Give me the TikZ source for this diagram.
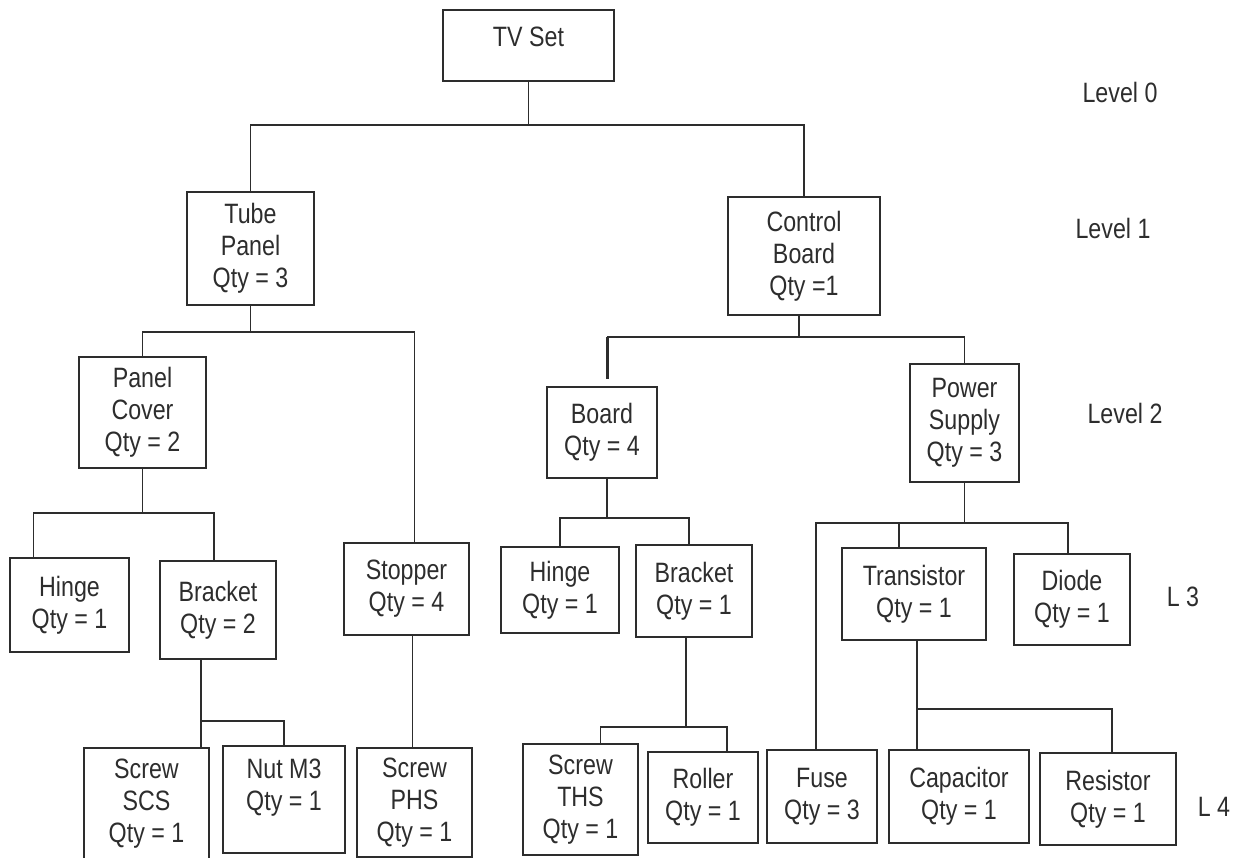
\documentclass[tikz,border=0pt]{standalone}
\usepackage{fontspec}
\setmainfont{Liberation Sans}[FakeStretch=0.83]
\usetikzlibrary{calc}
\definecolor{InkGray}{RGB}{45,45,45}
\tikzset{
  part/.style={draw=InkGray, line width=1.6pt, align=center, inner sep=2pt, text=InkGray},
  link/.style={draw=InkGray, line width=1.4pt},
  levellabel/.style={text=InkGray, inner sep=0pt}
}

\begin{document}
\begin{tikzpicture}[x=1pt, y=-1pt, font=\fontsize{28}{32}\selectfont]
  \useasboundingbox (0,0) rectangle (1240,858);

  % level 0 and 1
  \node[part, minimum width=171, minimum height=71, text depth=17pt] (tvset) at (528.5,45.5) {TV Set};
  \node[part, minimum width=127, minimum height=113] (tube) at (250.5,248.5) {Tube\\Panel\\Qty = 3};
  \node[part, minimum width=152, minimum height=118] (ctrl) at (804,256) {Control\\Board\\Qty =1};

  % level 2
  \node[part, minimum width=127, minimum height=111] (pcover) at (142.5,412.5) {Panel\\Cover\\Qty = 2};
  \node[part, minimum width=110, minimum height=91] (board) at (602,432.5) {Board\\Qty = 4};
  \node[part, minimum width=109, minimum height=118] (psupply) at (964.5,423) {Power\\Supply\\Qty = 3};

  % level 3
  \node[part, minimum width=119, minimum height=94] (hingeA) at (69.5,605) {Hinge\\Qty = 1};
  \node[part, minimum width=116, minimum height=98] (bracketA) at (218,610) {Bracket\\Qty = 2};
  \node[part, minimum width=125, minimum height=92] (stopper) at (406.5,589) {Stopper\\Qty = 4};
  \node[part, minimum width=118, minimum height=86] (hingeB) at (560,590) {Hinge\\Qty = 1};
  \node[part, minimum width=116, minimum height=92] (bracketB) at (694,591) {Bracket\\Qty = 1};
  \node[part, minimum width=144, minimum height=92] (transistor) at (914,594) {Transistor\\Qty = 1};
  \node[part, minimum width=116, minimum height=91] (diode) at (1072,599.5) {Diode\\Qty = 1};

  % level 4
  \node[part, minimum width=125, minimum height=111] (screwA) at (146.5,803.5) {Screw\\SCS\\Qty = 1};
  \node[part, minimum width=122, minimum height=107, text depth=30pt] (nut) at (284,799.5) {Nut M3\\Qty = 1};
  \node[part, minimum width=115, minimum height=109] (screwB) at (414.5,802.5) {Screw\\PHS\\Qty = 1};
  \node[part, minimum width=115, minimum height=111] (screwC) at (580.5,799.5) {Screw\\THS\\Qty = 1};
  \node[part, minimum width=110, minimum height=91] (roller) at (703,797.5) {Roller\\Qty = 1};
  \node[part, minimum width=110, minimum height=93] (fuse) at (822,796.5) {Fuse\\Qty = 3};
  \node[part, minimum width=140, minimum height=93] (capacitor) at (959,796.5) {Capacitor\\Qty = 1};
  \node[part, minimum width=136, minimum height=92] (resistor) at (1108,799) {Resistor\\Qty = 1};

  % level labels
  \foreach \lbl/\x/\y [count=\i] in {Level 0/1120/92, Level 1/1113/228, Level 2/1125/413, L 3/1183/597, L 4/1214/807}
    \node[levellabel] (lvl\i) at (\x,\y) {\lbl};

  % bar heights
  \coordinate (bar0) at (0,125);
  \coordinate (bar1) at (0,332);
  \coordinate (bar2) at (0,513);
  \coordinate (bar3) at (0,721);
  \coordinate (bar4) at (0,337);
  \coordinate (bar5) at (0,518);
  \coordinate (bar6) at (0,727);
  \coordinate (bar7) at (0,523);
  \coordinate (bar8) at (0,709);

  % TV Set
  \draw[link] (tvset.south) -- (tvset.south |- bar0);
  \draw[link] (tube.north) |- (bar0 -| ctrl.north) -- (ctrl.north);

  % Tube Panel
  \coordinate (stopIn) at ([xshift=8pt]stopper.north);
  \draw[link] (tube.south) -- (tube.south |- bar1);
  \draw[link] (pcover.north) |- (stopIn |- bar1) -- (stopIn);

  % Panel Cover
  \coordinate (hingeAIn) at ([xshift=24pt]hingeA.north west);
  \coordinate (brAIn) at ([xshift=-4pt]bracketA.north);
  \draw[link] (pcover.south) -- (pcover.south |- bar2);
  \draw[link] (hingeAIn) |- (brAIn |- bar2) -- (brAIn);

  % Bracket (panel side)
  \coordinate (brAOut) at ([xshift=-17pt]bracketA.south);
  \draw[link] (brAOut) -- (brAOut |- screwA.north);
  \draw[link] (brAOut |- bar3) -| (nut.north);

  % Stopper
  \coordinate (stopOut) at ([xshift=6pt]stopper.south);
  \draw[link] (stopOut) -- (stopOut |- screwB.north);

  % Control Board
  \coordinate (ctrlOut) at ([xshift=-5pt]ctrl.south);
  \coordinate (boardIn) at ([xshift=5pt]board.north);
  \draw[link] (ctrlOut) -- (ctrlOut |- bar4);
  \draw[link] (boardIn |- bar4) -| (psupply.north);
  \draw[link, line width=3pt] (boardIn |- bar4) -- ([yshift=7pt]boardIn);

  % Board
  \coordinate (boardOut) at ([xshift=5pt]board.south);
  \coordinate (brBIn) at ([xshift=-5pt]bracketB.north);
  \draw[link] (boardOut) -- (boardOut |- bar5);
  \draw[link] (hingeB.north) |- (brBIn |- bar5) -- (brBIn);

  % Bracket (board side)
  \coordinate (brBOut) at ([xshift=-8pt]bracketB.south);
  \coordinate (screwCIn) at ([xshift=20pt]screwC.north);
  \coordinate (rollerIn) at ([xshift=24pt]roller.north);
  \draw[link] (brBOut) -- (brBOut |- bar6);
  \draw[link] (screwCIn) |- (rollerIn |- bar6) -- (rollerIn);

  % Power Supply
  \coordinate (fuseIn) at ([xshift=-6pt]fuse.north);
  \coordinate (transIn) at ([xshift=-15pt]transistor.north);
  \coordinate (diodeIn) at ([xshift=-4pt]diode.north);
  \draw[link] (psupply.south) -- (psupply.south |- bar7);
  \draw[link] (fuseIn) |- (diodeIn |- bar7) -- (diodeIn);
  \draw[link] (transIn) -- (transIn |- bar7);

  % Transistor
  \coordinate (transOut) at ([xshift=3pt]transistor.south);
  \coordinate (resIn) at ([xshift=4pt]resistor.north);
  \draw[link] (transOut) -- (transOut |- capacitor.north);
  \draw[link] (transOut |- bar8) -| (resIn);
\end{tikzpicture}
\end{document}
